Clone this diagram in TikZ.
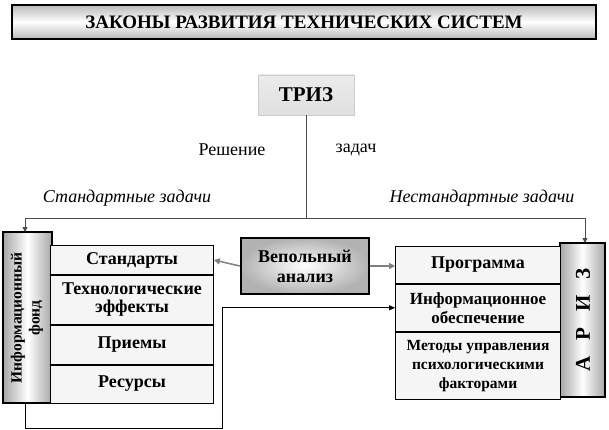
\documentclass[tikz,border=0pt]{standalone}
\usepackage{fontspec}
\setmainfont{Liberation Serif}
\usetikzlibrary{positioning,arrows.meta}
\tikzset{
  item/.style={draw,thick,fill=gray!8,align=center,inner sep=1pt,font=\bfseries\fontsize{18}{18}\selectfont},
  col/.style={draw,line width=2.5pt,left color=gray!70,right color=gray!70,middle color=white},
  garrow/.style={draw=gray,line width=1.5pt,-{Triangle[length=6pt,width=6pt]}},
  thin/.style={draw,gray!60!black,thick}
}
\begin{document}
\begin{tikzpicture}[x=1pt,y=-1pt]
\useasboundingbox (0,0) rectangle (609,430);
% title
\node[draw,line width=2.5pt,top color=gray!55,bottom color=gray!55,middle color=white,
  minimum width=584pt,minimum height=34pt,font=\bfseries\fontsize{19}{20}\selectfont] (laws) at (304,22) {ЗАКОНЫ РАЗВИТИЯ ТЕХНИЧЕСКИХ СИСТЕМ};
\node[draw=gray!40,top color=gray!15,bottom color=gray!25,minimum width=96pt,minimum height=40pt,
  font=\bfseries\fontsize{21}{22}\selectfont] (triz) at (306,95) {ТРИЗ};
\node[font=\fontsize{18}{18}\selectfont] (sol) at (232,150) {Решение};
\node[font=\fontsize{18}{18}\selectfont] (task) at (356,150) {задач};
\node[font=\itshape\fontsize{18}{18}\selectfont] (std) at (127,198) {Стандартные задачи};
\node[font=\itshape\fontsize{18}{18}\selectfont] (nstd) at (482,198) {Нестандартные задачи};
% left part
\path[col] (3,232) rectangle (52,403);
\node[rotate=90,align=center,inner sep=0pt,font=\bfseries\fontsize{15.5}{18}\selectfont] (fond) at (27,318) {Информационный\\фонд};
\coordinate (fondtop) at (25,232);
\coordinate (fondbot) at (25,403);
\node[item,minimum width=163pt,minimum height=29pt] (s1) at (132,260) {Стандарты};
\node[item,minimum width=163pt,minimum height=49pt,below=0pt of s1] (s2) {Технологические\\эффекты};
\node[item,minimum width=163pt,minimum height=39pt,below=0pt of s2] (s3) {Приемы};
\node[item,minimum width=163pt,minimum height=38pt,below=0pt of s3] (s4) {Ресурсы};
% vepol
\node[draw,line width=2.5pt,inner color=white,outer color=gray!60,minimum width=128pt,minimum height=56pt,
  align=center,font=\bfseries\fontsize{18}{20}\selectfont] (vep) at (305,266) {Вепольный\\анализ};
% right part
\path[col] (560,243) rectangle (605,397);
\node[rotate=90,font=\bfseries\fontsize{21}{22}\selectfont] (ariz) at (583,320) {А\enspace\ Р\enspace\ И\enspace\ З};
\coordinate (ariztop) at (585,243);
\node[item,minimum width=165pt,minimum height=37pt] (p1) at (478,265) {Программа};
\node[item,minimum width=165pt,minimum height=47pt,below=0pt of p1,font=\bfseries\fontsize{17}{19}\selectfont] (p2) {Информационное\\обеспечение};
\node[item,minimum width=165pt,minimum height=67pt,below=0pt of p2,font=\bfseries\fontsize{15.5}{19}\selectfont] (p3) {Методы управления\\психологическими\\факторами};
% connectors
\coordinate (split) at (306,218);
\draw[thin] (triz) -- (split);
\draw[thin,-{Triangle[length=5pt,width=5pt]}] (split) -| (fondtop);
\draw[thin,-{Triangle[length=5pt,width=5pt]}] (split) -| (ariztop);
\draw[garrow] (vep.west) -- (s1.east);
\draw[garrow] (vep.east) -- (vep.east -| p1.west);
\coordinate (c1) at (25,428);
\coordinate (c2) at (222,428);
\draw[thick,-{Triangle[length=6pt,width=5pt]}] (fondbot) -- (c1) -- (c2) |- (p2.west);
\end{tikzpicture}
\end{document}
